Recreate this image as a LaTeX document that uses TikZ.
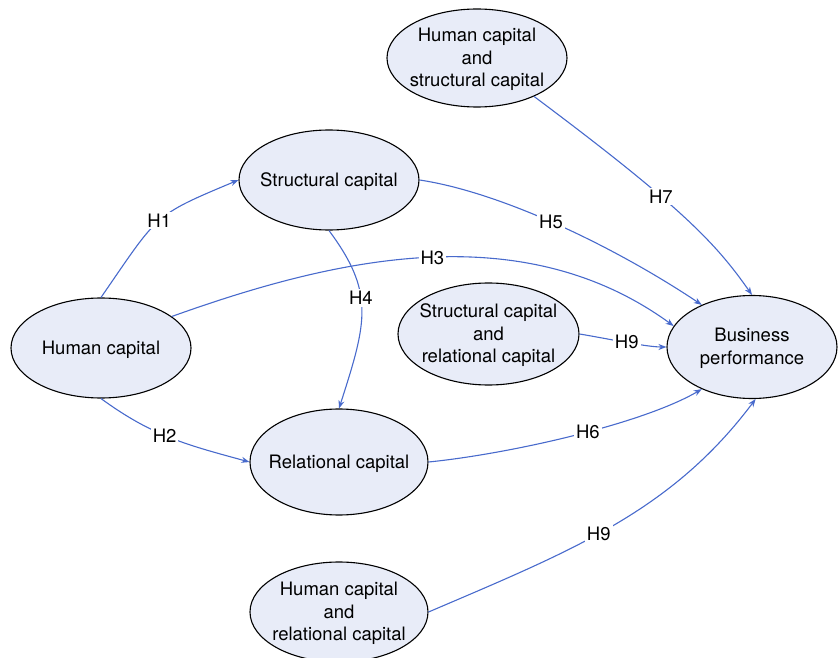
\documentclass[tikz,border=0pt]{standalone}
\usepackage{fontspec}
\setmainfont{TeX Gyre Heros}
\usetikzlibrary{shapes.geometric,arrows.meta}
\definecolor{nodefill}{RGB}{232,236,248}
\definecolor{linkblue}{RGB}{72,106,204}
\begin{document}
\begin{tikzpicture}[x=1pt,y=-1pt,
  elli/.style={ellipse, draw=black, line width=1.1pt, fill=nodefill, inner sep=0pt},
  txt/.style={align=center, font=\fontsize{18.5}{22.5}\selectfont, inner sep=0pt, yshift=-1.5pt},
  conn/.style={draw=linkblue, line width=1.1pt, -{Stealth[length=8pt,width=6pt,inset=2.5pt]}},
  lbl/.style={fill=white, inner sep=2pt, font=\fontsize{18.5}{22.5}\selectfont}]
\useasboundingbox (0,0) rectangle (839,658);

% ellipses
\node[elli, minimum width=180pt, minimum height=100pt] (hc) at (101,348) {};
\node[elli, minimum width=180pt, minimum height=100pt] (sc) at (329,180) {};
\node[elli, minimum width=178pt, minimum height=106pt] (rc) at (339,462) {};
\node[elli, minimum width=181pt, minimum height=102pt] (scrc) at (488.5,334) {};
\node[elli, minimum width=170pt, minimum height=103pt] (bp) at (752,347) {};
\node[elli, minimum width=180pt, minimum height=98pt] (hcsc) at (477,58) {};
\node[elli, minimum width=178pt, minimum height=100pt] (hcrc) at (339,612) {};

% texts
\node[txt] (hct) at (hc) {Human capital};
\node[txt] (sct) at (sc) {Structural capital};
\node[txt] (rct) at (rc) {Relational capital};
\node[txt] (scrct) at (scrc) {Structural capital\\and\\relational capital};
\node[txt] (bpt) at (bp) {Business\\performance};
\node[txt] (hcsct) at (hcsc) {Human capital\\and\\structural capital};
\node[txt] (hcrct) at (hcrc) {Human capital\\and\\relational capital};

% connectors
\draw[conn] (hc.north) .. controls +(58,-84) and +(-86,36) .. (sc.west) node[lbl,pos=.5] {H1};
\draw[conn] (hc.south) .. controls +(52,38) and +(-62,-17) .. (rc.west) node[lbl,pos=.45] {H2};
\draw[conn] (hc.24) .. controls +(159,-57) and +(-154,-112) .. (bp.165) node[lbl,pos=.515] {H3};
\draw[conn] (sc.south) .. controls +(46,62) and +(28,-87) .. (rc.north) node[lbl,pos=.42] {H4};
\draw[conn] (sc.east) .. controls +(80,12) and +(-90,-60) .. (bp.140) node[lbl,pos=.48] {H5};
\draw[conn] (rc.east) .. controls +(80,-8) and +(-60,35) .. (bp.220) node[lbl,pos=.55] {H6};
\draw[conn] (hcsc.-34) .. controls +(150,112) and +(-35,-50) .. (bp.north) node[lbl,pos=.38] {H7};
\draw[conn] (scrc.east) .. controls +(30,5) and +(-20,0) .. (bp.west) node[lbl,pos=.5] {H9};
\draw[conn] (hcrc.east) .. controls +(145,-62) and +(-84,112) .. (bp.-86) node[lbl,pos=.45] {H9};
\end{tikzpicture}
\end{document}
